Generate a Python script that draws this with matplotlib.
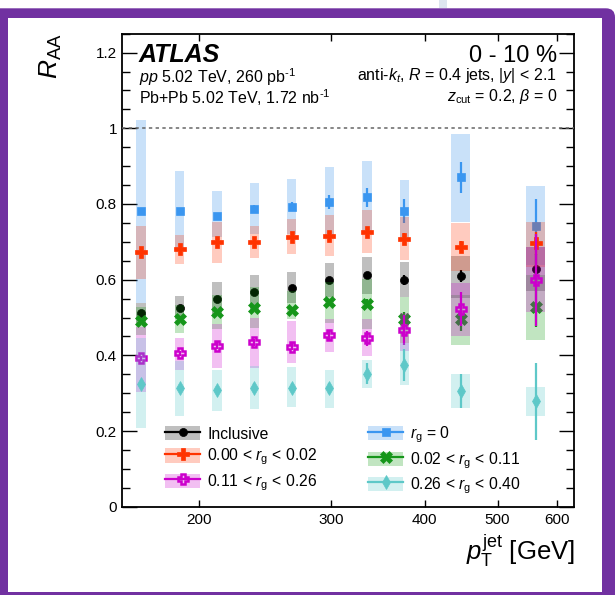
import numpy as np
import matplotlib
matplotlib.use("Agg")
import matplotlib.pyplot as plt
from matplotlib.patches import Rectangle, FancyBboxPatch, Patch
from matplotlib.lines import Line2D
from matplotlib.legend_handler import HandlerPatch
from matplotlib.ticker import FixedLocator, FixedFormatter, NullLocator, MultipleLocator

plt.rcParams['font.family'] = ['Liberation Sans', 'DejaVu Sans']
plt.rcParams['mathtext.fontset'] = 'custom'
plt.rcParams['mathtext.rm'] = 'Liberation Sans'
plt.rcParams['mathtext.it'] = 'Liberation Sans:italic'
plt.rcParams['mathtext.bf'] = 'Liberation Sans:bold'

# jet pT bin edges [GeV]
pt_edges = [158, 178, 200, 224, 251, 282, 316, 355, 398, 501, 631]

# R_AA central values, systematic band (low / high) and statistical errors
incl_val = [0.512, 0.526, 0.550, 0.567, 0.579, 0.600, 0.613, 0.599, 0.610, 0.627]
incl_lo = [0.485, 0.495, 0.506, 0.522, 0.538, 0.555, 0.562, 0.553, 0.551, 0.570]
incl_hi = [0.539, 0.557, 0.594, 0.612, 0.620, 0.644, 0.660, 0.647, 0.663, 0.685]
incl_stat = [0.005, 0.005, 0.005, 0.005, 0.006, 0.007, 0.008, 0.012, 0.015, 0.040]

rg0_val = [0.782, 0.782, 0.769, 0.788, 0.793, 0.806, 0.818, 0.781, 0.870, 0.743]
rg0_lo = [0.539, 0.677, 0.714, 0.721, 0.721, 0.714, 0.722, 0.705, 0.753, 0.638]
rg0_hi = [1.022, 0.887, 0.834, 0.855, 0.866, 0.898, 0.914, 0.863, 0.985, 0.848]
rg0_stat = [0.006, 0.007, 0.007, 0.008, 0.012, 0.018, 0.025, 0.032, 0.040, 0.069]

rg1_val = [0.672, 0.680, 0.700, 0.700, 0.714, 0.716, 0.727, 0.707, 0.687, 0.696]
rg1_lo = [0.602, 0.641, 0.645, 0.658, 0.668, 0.663, 0.671, 0.653, 0.623, 0.634]
rg1_hi = [0.742, 0.718, 0.752, 0.742, 0.760, 0.771, 0.784, 0.765, 0.751, 0.753]
rg1_stat = [0.005, 0.005, 0.006, 0.006, 0.007, 0.008, 0.010, 0.015, 0.015, 0.030]

rg2_val = [0.490, 0.497, 0.514, 0.526, 0.520, 0.540, 0.536, 0.495, 0.495, 0.529]
rg2_lo = [0.453, 0.460, 0.470, 0.472, 0.495, 0.485, 0.470, 0.432, 0.427, 0.441]
rg2_hi = [0.529, 0.534, 0.559, 0.580, 0.570, 0.595, 0.602, 0.553, 0.559, 0.612]
rg2_stat = [0.005, 0.006, 0.006, 0.007, 0.008, 0.010, 0.012, 0.020, 0.030, 0.053]

rg3_val = [0.392, 0.405, 0.426, 0.434, 0.423, 0.453, 0.445, 0.467, 0.522, 0.599]
rg3_lo = [0.304, 0.361, 0.367, 0.366, 0.381, 0.410, 0.397, 0.412, 0.451, 0.515]
rg3_hi = [0.476, 0.446, 0.483, 0.500, 0.492, 0.496, 0.495, 0.513, 0.592, 0.687]
rg3_stat = [0.006, 0.007, 0.008, 0.009, 0.010, 0.012, 0.020, 0.039, 0.045, 0.121]

rg4_val = [0.324, 0.315, 0.308, 0.315, 0.315, 0.313, 0.352, 0.374, 0.306, 0.279]
rg4_lo = [0.207, 0.241, 0.254, 0.257, 0.264, 0.262, 0.315, 0.322, 0.260, 0.241]
rg4_hi = [0.445, 0.386, 0.361, 0.372, 0.370, 0.361, 0.388, 0.432, 0.351, 0.317]
rg4_stat = [0.008, 0.009, 0.010, 0.011, 0.012, 0.015, 0.027, 0.042, 0.045, 0.102]

labels = ['Inclusive',
          r'$r_{\mathrm{g}}$ = 0',
          r'0.00 < $r_{\mathrm{g}}$ < 0.02',
          r'0.02 < $r_{\mathrm{g}}$ < 0.11',
          r'0.11 < $r_{\mathrm{g}}$ < 0.26',
          r'0.26 < $r_{\mathrm{g}}$ < 0.40']

x_ticks = [200, 300, 400, 500, 600]
x_ticklabels = ['200', '300', '400', '500', '600']
y_ticks = [0, 0.2, 0.4, 0.6, 0.8, 1.0, 1.2]
y_ticklabels = ['0', '0.2', '0.4', '0.6', '0.8', '1', '1.2']

series = [
    dict(val=incl_val, lo=incl_lo, hi=incl_hi, stat=incl_stat, label=labels[0],
         color='black', box='#000000', marker='o', ms=5.8, mfc='black', mew=0.5),
    dict(val=rg0_val, lo=rg0_lo, hi=rg0_hi, stat=rg0_stat, label=labels[1],
         color='#3a96f0', box='#2a88e8', marker='s', ms=5.4, mfc='#3a96f0', mew=0.5),
    dict(val=rg1_val, lo=rg1_lo, hi=rg1_hi, stat=rg1_stat, label=labels[2],
         color='#ff3300', box='#ff3300', marker='P', ms=8.2, mfc='#ff3300', mew=0.5),
    dict(val=rg2_val, lo=rg2_lo, hi=rg2_hi, stat=rg2_stat, label=labels[3],
         color='#16961a', box='#089808', marker='X', ms=8.2, mfc='#16961a', mew=0.5),
    dict(val=rg3_val, lo=rg3_lo, hi=rg3_hi, stat=rg3_stat, label=labels[4],
         color='#cc00cc', box='#cc00cc', marker='P', ms=7.0, mfc='none', mew=1.8),
    dict(val=rg4_val, lo=rg4_lo, hi=rg4_hi, stat=rg4_stat, label=labels[5],
         color='#5ec8c8', box='#4cc7c7', marker='d', ms=7.5, mfc='#5ec8c8', mew=0.5),
]
box_alpha = 0.25

W, H = 615, 595
fig = plt.figure(figsize=(W / 100, H / 100), dpi=100, facecolor='white')

# window frame around the figure
fig.patches.append(Rectangle((439, H - 8.3), 8, 8.3, transform=None,
                             facecolor='#dde5ef', edgecolor='none', zorder=-10))
fig.patches.append(FancyBboxPatch((-20, -20), W + 20, H - 8.3 + 20, transform=None,
                                  boxstyle='round,pad=0,rounding_size=9',
                                  facecolor='#7131a1', edgecolor='none', zorder=-10))
fig.patches.append(Rectangle((8.3, 3), 602 - 8.3, (H - 18.3) - 3, transform=None,
                             facecolor='white', edgecolor='none', zorder=-9))

ax_l, ax_r, ax_b, ax_t = 121.7, 573.5, 506.7, 33.7
ax = fig.add_axes([ax_l / W, (H - ax_b) / H, (ax_r - ax_l) / W, (ax_b - ax_t) / H])
ax.set_facecolor('none')
ax.set_zorder(1)

edges = np.array(pt_edges, dtype=float)
centers = np.sqrt(edges[:-1] * edges[1:])
half_w = 0.125 * np.log(edges[1:] / edges[:-1])
box_left = centers * np.exp(-half_w)
box_right = centers * np.exp(half_w)

handles = []
for i, s in enumerate(series):
    z = 2 + i * 0.1
    lo = np.array(s['lo'])
    hi = np.array(s['hi'])
    ax.bar(box_left, hi - lo, width=box_right - box_left, bottom=lo, align='edge',
           color=s['box'], alpha=box_alpha, linewidth=0, zorder=z)
    ax.errorbar(centers, s['val'], yerr=s['stat'], fmt='none', ecolor=s['color'],
                elinewidth=1.6, capsize=0, zorder=z + 0.02)
    ax.plot(centers, s['val'], linestyle='none', marker=s['marker'], ms=s['ms'],
            color=s['color'], mfc=s['mfc'], mec=s['color'], mew=s['mew'], zorder=z + 0.05)
    patch = Patch(facecolor=s['box'], alpha=box_alpha, edgecolor='none')
    line = Line2D([], [], color=s['color'], lw=1.6, marker=s['marker'], ms=s['ms'],
                  mfc=s['mfc'], mec=s['color'], mew=s['mew'])
    handles.append((patch, line))

ax.axhline(1.0, color='#666666', lw=1.1, linestyle=(0, (2.2, 2.2)), zorder=5)

ax.set_xscale('log')
ax.set_xlim(pt_edges[0], pt_edges[-1])
ax.set_ylim(0, 1.25)
ax.xaxis.set_major_locator(FixedLocator(x_ticks))
ax.xaxis.set_major_formatter(FixedFormatter(x_ticklabels))
ax.xaxis.set_minor_locator(NullLocator())
ax.yaxis.set_major_locator(FixedLocator(y_ticks))
ax.yaxis.set_major_formatter(FixedFormatter(y_ticklabels))
ax.yaxis.set_minor_locator(MultipleLocator(0.05))

ax.tick_params(which='both', direction='in', top=True, right=True, width=1.0,
               labelsize=11, colors='black')
ax.tick_params(axis='y', which='major', length=10.8, pad=3.4)
ax.tick_params(axis='y', which='minor', length=5.8)
ax.tick_params(axis='x', which='major', length=5.2, pad=4.5)
for sp in ax.spines.values():
    sp.set_linewidth(1.3)

# axis titles
fig.text(51 / W, (H - 33) / H, r'$R_{\mathrm{AA}}$', rotation=90, ha='center', va='top',
         fontsize=19)
fig.text(575 / W, (H - 560) / H, r'$p_{\mathrm{T}}^{\mathrm{jet}}$ [GeV]', ha='right',
         va='baseline', fontsize=18.5)

# labels inside the frame
fig.text(139 / W, (H - 62) / H, 'ATLAS', fontsize=18, fontweight='bold', fontstyle='italic',
         ha='left', va='baseline')
fig.text(557 / W, (H - 62) / H, '0 - 10 %', fontsize=17, ha='right', va='baseline')
fig.text(139 / W, (H - 82.5) / H, r'$pp$ 5.02 TeV, 260 pb$^{\text{-1}}$', fontsize=11.5,
         ha='left', va='baseline')
fig.text(139 / W, (H - 104) / H, r'Pb+Pb 5.02 TeV, 1.72 nb$^{\text{-1}}$', fontsize=11.5,
         ha='left', va='baseline')
fig.text(557 / W, (H - 80) / H, r'anti-$k_{t}$, $R$ = 0.4 jets, |$y$| < 2.1', fontsize=11.5,
         ha='right', va='baseline')
fig.text(557 / W, (H - 101) / H, r'$z_{\mathrm{cut}}$ = 0.2, $\beta$ = 0', fontsize=11.5,
         ha='right', va='baseline')


def legend_box(legend, orig_handle, xdescent, ydescent, width, height, fontsize):
    # band drawn a little shorter than the legend row
    h = 0.82 * height
    return Rectangle((-xdescent, -ydescent + (height - h) / 2), width, h)


order = [0, 2, 4, 1, 3, 5]
leg = ax.legend([handles[k] for k in order], [labels[k] for k in order], ncol=2,
                loc='upper left', bbox_to_anchor=((165 - ax_l) / (ax_r - ax_l),
                                                  (ax_b - 424.6) / (ax_b - ax_t)),
                handler_map={Patch: HandlerPatch(patch_func=legend_box)},
                frameon=False, fontsize=11.3, handlelength=2.25, handleheight=1.32,
                handletextpad=0.45, labelspacing=0.31, columnspacing=3.2,
                borderpad=0, borderaxespad=0)
leg.set_zorder(10)

fig.savefig('out.png', dpi=100, facecolor=fig.get_facecolor())
